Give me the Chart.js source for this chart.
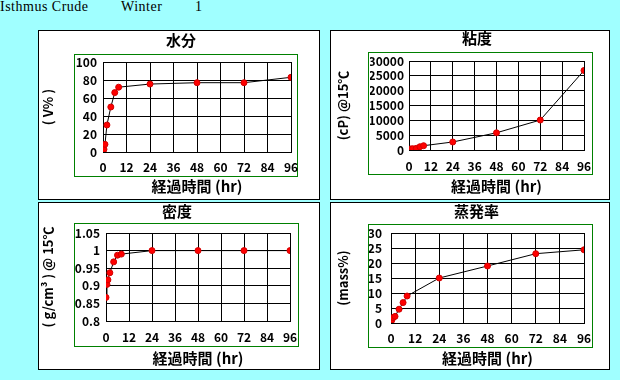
<!DOCTYPE html>
<html><head><meta charset="utf-8">
<script src="https://cdn.jsdelivr.net/npm/chart.js@4"></script>
<style>
html,body{margin:0;padding:0;}
body{width:620px;height:380px;background:#a0ffff;position:relative;overflow:hidden;}
.hdr{position:absolute;top:0;font-family:"Liberation Serif","Times New Roman",serif;font-size:14px;line-height:14px;letter-spacing:0.5px;color:#000;white-space:nowrap;}
.panel{position:absolute;background:#fff;border:1px solid #000;box-sizing:border-box;}
.panel canvas{position:absolute;left:0;top:0;}
</style></head><body>
<div class="hdr" style="left:0">Isthmus Crude</div>
<div class="hdr" style="left:121px">Winter</div>
<div class="hdr" style="left:195px">1</div>
<div class="panel" style="left:38px;top:30px;width:282px;height:170px"><canvas id="c1" width="280" height="168"></canvas></div>
<div class="panel" style="left:330px;top:30px;width:280px;height:170px"><canvas id="c2" width="278" height="168"></canvas></div>
<div class="panel" style="left:38px;top:202px;width:282px;height:168px"><canvas id="c3" width="280" height="166"></canvas></div>
<div class="panel" style="left:330px;top:202px;width:280px;height:168px"><canvas id="c4" width="278" height="166"></canvas></div>
<script>
// ---- data ----
const hours = [0, 0.5, 1, 2, 4, 6, 8, 24, 48, 72, 96];
const water = [0, 3, 8.5, 30, 50, 66, 72, 75.5, 77, 77, 83];
const viscosity = [100, 250, 350, 450, 550, 1100, 1450, 2700, 5800, 10100, 26800];
const density = [0.867, 0.904, 0.917, 0.937, 0.968, 0.987, 0.99, 1.0, 1.0, 1.0, 1.0];
const evaporation = [0, 1.1, 1.8, 2.2, 4.6, 6.8, 9, 15, 19, 23.1, 24.4];

const hourTicks = [0, 12, 24, 36, 48, 60, 72, 84, 96];
const waterTicks = [0, 20, 40, 60, 80, 100];
const viscosityTicks = [0, 5000, 10000, 15000, 20000, 25000, 30000];
const densityTicks = [0.8, 0.85, 0.9, 0.95, 1.0, 1.05];
const densityTickLabels = ['0.8', '0.85', '0.9', '0.95', '1', '1.05'];
const evaporationTicks = [0, 5, 10, 15, 20, 25, 30];

const xAxisTitle = '経過時間 (hr)';
const chartTitles = ['水分', '粘度', '密度', '蒸発率'];
const yAxisTitles = ['( V% )', '(cP) @15℃', '( g/cm³ ) @ 15℃', '(mass%)'];

// ---- drawing ----
const F = '"Noto Sans CJK JP", "Noto Sans", sans-serif';

const greenBox = {
  id: 'greenBox',
  beforeDraw(chart, args, o) {
    const c = chart.ctx;
    c.save();
    c.strokeStyle = '#008000';
    c.lineWidth = 1;
    c.strokeRect(o.x + 0.5, o.y + 0.5, o.w, o.h);
    c.restore();
  }
};

function makeChart(id, g) {
  const labels = g.labels || g.ticks.map(String);
  return new Chart(document.getElementById(id), {
    type: 'line',
    data: {
      datasets: [{
        data: hours.map((h, i) => ({x: h, y: g.values[i]})),
        borderColor: '#000', borderWidth: 1, tension: 0, fill: false,
        pointBackgroundColor: '#ff0000', pointBorderColor: '#d00000',
        pointBorderWidth: 1, pointRadius: 3
      }]
    },
    options: {
      responsive: false, animation: false, devicePixelRatio: 1,
      layout: {padding: {left: g.pl, right: g.pr, top: 0, bottom: 0}},
      plugins: {
        legend: {display: false}, tooltip: {enabled: false},
        title: {display: true, text: g.title, color: '#000',
          font: {family: F, size: 15, weight: 'bold', lineHeight: g.tLH + 'px'},
          padding: {top: 0, bottom: g.tPB}},
        greenBox: g.box
      },
      scales: {
        x: {
          type: 'linear', min: 0, max: 96,
          afterBuildTicks: s => { s.ticks = hourTicks.map(v => ({value: v})); },
          afterFit: s => { s.height = g.H; },
          grid: {color: '#000', lineWidth: 1, drawTicks: false},
          border: {color: '#000', width: 1},
          ticks: {color: '#000', font: {family: F, size: 12, weight: 'bold', lineHeight: '14px'},
            padding: g.xPad, maxRotation: 0, autoSkip: false,
            callback: (v, i) => String(hourTicks[i])},
          title: {display: true, text: xAxisTitle, color: '#000',
            font: {family: F, size: 15, weight: 'bold', lineHeight: '18px'},
            padding: {top: 0, bottom: g.xtPB}}
        },
        y: {
          type: 'linear', min: g.ticks[0], max: g.ticks[g.ticks.length - 1],
          afterBuildTicks: s => { s.ticks = g.ticks.map(v => ({value: v})); },
          afterFit: s => { s.width = g.W; },
          grid: {color: '#000', lineWidth: 1, drawTicks: false},
          border: {color: '#000', width: 1},
          ticks: {color: '#000', font: {family: F, size: 12, weight: 'bold', lineHeight: '14px'},
            padding: g.yPad, autoSkip: false,
            callback: (v, i) => labels[i]},
          title: {display: true, text: g.yTitle, color: '#000',
            font: {family: F, size: 13, weight: 'bold', lineHeight: '16px'},
            padding: {top: g.ytPT, bottom: 0}}
        }
      }
    },
    plugins: [greenBox]
  });
}

makeChart('c1', {values: water, ticks: waterTicks, title: chartTitles[0], yTitle: yAxisTitles[0],
  pl: 32, pr: 28, W: 32, tLH: 19, tPB: 12, H: 47, xPad: 8, xtPB: 4, yPad: 6, ytPT: -31,
  box: {x: 35, y: 23, w: 223, h: 122}});
makeChart('c2', {values: viscosity, ticks: viscosityTicks, title: chartTitles[1], yTitle: yAxisTitles[1],
  pl: 39, pr: 25, W: 39, tLH: 14, tPB: 16, H: 49, xPad: 9, xtPB: 4, yPad: 5, ytPT: -35,
  box: {x: 37, y: 21, w: 224, h: 122}});
makeChart('c3', {values: density, ticks: densityTicks, labels: densityTickLabels, title: chartTitles[2], yTitle: yAxisTitles[2],
  pl: 25, pr: 29, W: 42, tLH: 17, tPB: 13, H: 48, xPad: 9, xtPB: 2, yPad: 6, ytPT: -24,
  box: {x: 35, y: 20, w: 224, h: 123}});
makeChart('c4', {values: evaporation, ticks: evaporationTicks, title: chartTitles[3], yTitle: yAxisTitles[3],
  pl: 38, pr: 25, W: 22, tLH: 17, tPB: 13, H: 46, xPad: 8, xtPB: 2, yPad: 9, ytPT: -34,
  box: {x: 37, y: 21, w: 224, h: 123}});
</script>
</body></html>
